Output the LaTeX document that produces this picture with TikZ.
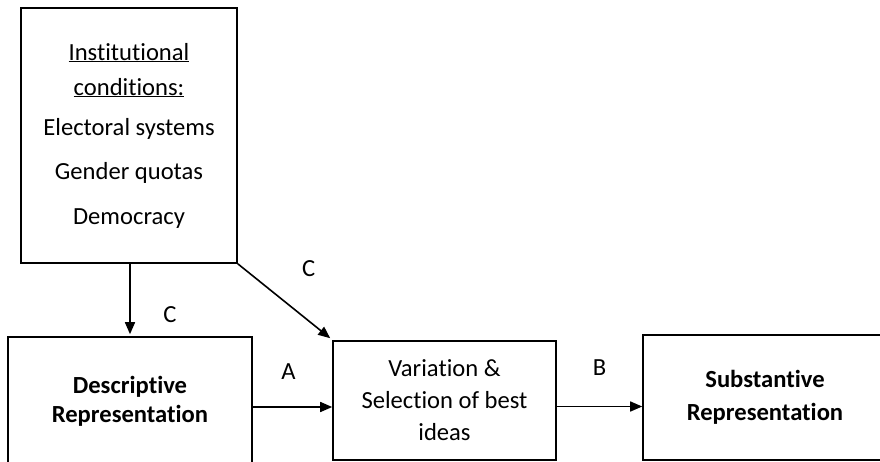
\documentclass[tikz,border=0pt]{standalone}
\usepackage{fontspec}
\setmainfont{Carlito}[RawFeature={-liga;-dlig;-clig}]
\usetikzlibrary{arrows.meta,positioning}

\begin{document}
\begin{tikzpicture}[x=1pt, y=-1pt,
    box/.style={draw, line width=1.6pt, align=center, inner sep=0pt, font=\fontsize{24.6}{30}\selectfont},
    arrow/.style={-{Triangle[length=12pt,width=10pt]}, line width=1.6pt},
    lab/.style={font=\fontsize{24.6}{29}\selectfont, inner sep=0pt}
  ]
    \useasboundingbox (0,0) rectangle (880,461);
    \clip (0,0) rectangle (880,461);

    \node[box, minimum width=216pt, minimum height=255pt, font=\fontsize{24.6}{35}\selectfont] (inst) at (129,135.5)
      {\underline{Institutional}\\\underline{conditions:}\\[5pt]Electoral systems\\[9pt]Gender quotas\\[10pt]Democracy};
    \node[box, minimum width=244pt, minimum height=128pt, font=\bfseries\fontsize{24.6}{29}\selectfont] (desc) at (130,401)
      {Descriptive\\Representation};
    \node[box, minimum width=223pt, minimum height=119pt, font=\fontsize{24.6}{32}\selectfont] (var) at (444.5,400.5)
      {Variation \&\\Selection of best\\ideas};
    \node[box, minimum width=244pt, minimum height=125pt, font=\bfseries\fontsize{24.6}{33}\selectfont] (subst) at (765,397.5)
      {Substantive\\Representation};

    \draw[arrow] (inst.south -| desc.north) -- node[lab, pos=0.72, xshift=40pt]{C} ([yshift=2pt]desc.north);
    \draw[arrow] (inst.south east) -- node[lab, pos=0, xshift=71pt, yshift=-5pt]{C} ([shift={(-2pt,2pt)}]var.north west);
    \draw[arrow] ([yshift=-6pt]desc.east) -- node[lab, pos=0.45, yshift=35pt]{A} ([yshift=-6pt]desc.east -| var.west);
    \draw[arrow] ([yshift=-6pt]var.east) -- node[lab, pos=0.5, yshift=39pt]{B} ([yshift=-6pt]var.east -| subst.west);
  \end{tikzpicture}
\end{document}
